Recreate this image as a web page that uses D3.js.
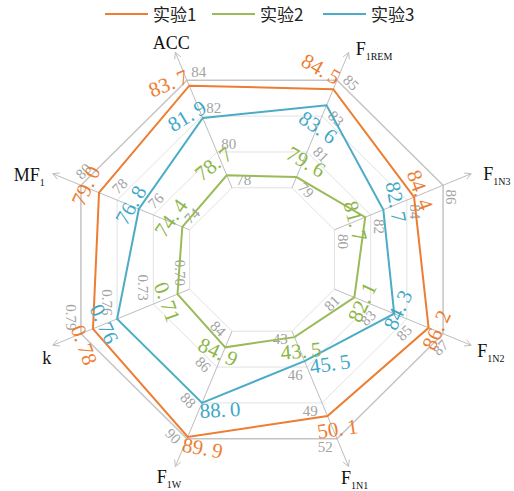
<!DOCTYPE html>
<html><head><meta charset="utf-8">
<script src="https://cdn.jsdelivr.net/npm/d3@7"></script>
<style>body{margin:0;background:#fff} svg{display:block}</style>
</head><body><svg id="chart" width="514" height="491"></svg>
<script>
// Indicators (one axis each) and their scales
const indicators = ["ACC", "F1REM", "F1N3", "F1N2", "F1N1", "F1W", "k", "MF1"];
const nameMain = ["ACC", "F", "F", "F", "F", "F", "k", "MF"];
const nameSub = ["", "1REM", "1N3", "1N2", "1N1", "1W", "", "1"];
const axisMin = [74, 75, 76, 77, 37, 80, 0.64, 70];
const axisMax = [84, 85, 86, 87, 52, 90, 0.79, 80];
const tickValues = [
  [78, 80, 82, 84], [79, 81, 83, 85], [80, 82, 84, 86], [81, 83, 85, 87],
  [43, 46, 49, 52], [84, 86, 88, 90], [0.70, 0.73, 0.76, 0.79], [74, 76, 78, 80]
];

// Series
const seriesNames = ["实验1", "实验2", "实验3"];
const exp1 = [83.7, 84.5, 84.4, 86.2, 50.1, 89.9, 0.78, 79.0];
const exp2 = [78.7, 79.6, 81.7, 82.1, 43.5, 84.9, 0.71, 74.4];
const exp3 = [81.9, 83.6, 82.7, 84.3, 45.5, 88.0, 0.76, 76.8];

// ---- layout & style ----
const colors = ["#ED7D31", "#9BBB59", "#4BACC6"];
const textColors = ["#ED7D31", "#8DB548", "#3FA8C6"];
const cx = 262, cy = 259.5, Rx = 196, Ry = 194, axisExt = 1.155;
// value label placement relative to its point: [dx, dy, rotate]
const valueLabelPos = [
  [[-20.7, -2.1, -22], [-12.3, -20.2, 30], [5.9, -7.1, 70], [7.9, 2.2, -65], [10, 13, -8], [14.8, 11.1, 10], [-9, 16.2, 70], [-13, -6.7, -65]],
  [[-13.2, -11.3, -38], [9.5, -15.1, 30], [-10, 4, 75], [8, 5, -65], [6.5, 13.8, -5], [-7.2, 4.7, 25], [-10.5, 7.9, 70], [-11.3, -8.8, -55]],
  [[-15.7, -1.9, -31], [-8.5, 22.1, 35], [12.7, -7.8, 80], [3.8, -3.7, -65], [25.5, 2.9, -8], [18, 7.1, -3], [-13.1, 5.1, 65], [-7.9, -4, -60]]
];
// axis name placement relative to the arrow tip: [dx, dy, anchor]
const namePos = [[-4, -3, "middle"], [7, 2.5, "start"], [12, 6, "start"], [6, 12, "start"],
                 [6, 17, "middle"], [-6.5, 16, "middle"], [-6, 19, "middle"], [-8, 7, "end"]];

const svg = d3.select("#chart");
const rad = Math.PI / 180;
const angles = indicators.map((d, i) => -112.5 + 45 * i);
const dir = angles.map(a => [Math.cos(a * rad), Math.sin(a * rad)]);
const scales = indicators.map((d, i) => d3.scaleLinear().domain([axisMin[i], axisMax[i]]).range([0, 1]));
const pt = (i, f) => [cx + dir[i][0] * f * Rx, cy + dir[i][1] * f * Ry];
const fmtTick = (i, v) => indicators[i] === "k" ? v.toFixed(2) : d3.format("d")(v);
const fmtVal = (i, v) => indicators[i] === "k" ? v.toFixed(2) : v.toFixed(1);

// split rings
const gRings = svg.append("g");
d3.range(4).forEach(level => {
  const pts = indicators.map((d, i) => pt(i, scales[i](tickValues[i][level])));
  gRings.append("path")
    .attr("d", d3.line().curve(d3.curveLinearClosed)(pts))
    .attr("fill", "none")
    .attr("stroke", level === 3 ? "#c4c4c4" : "#e2e2e2")
    .attr("stroke-width", level === 3 ? 1.5 : 1);
});

// axis lines with open arrow heads
const gAxes = svg.append("g").attr("stroke", "#bdbdbd").attr("stroke-width", 1).attr("fill", "none");
indicators.forEach((d, i) => {
  const a = pt(i, scales[i](tickValues[i][0]));
  const b = pt(i, axisExt);
  gAxes.append("line").attr("x1", a[0]).attr("y1", a[1]).attr("x2", b[0]).attr("y2", b[1]);
  const ang = Math.atan2(b[1] - a[1], b[0] - a[0]);
  const hl = 7;
  const p1 = [b[0] - hl * Math.cos(ang - 0.5), b[1] - hl * Math.sin(ang - 0.5)];
  const p2 = [b[0] - hl * Math.cos(ang + 0.5), b[1] - hl * Math.sin(ang + 0.5)];
  gAxes.append("path").attr("d", d3.line()([p1, b, p2]));
});

// tick labels along each axis, turned with the axis
const gTicks = svg.append("g");
indicators.forEach((d, i) => {
  let rot = angles[i] + 112.5;
  while (rot > 90) rot -= 180;
  while (rot <= -90) rot += 180;
  const u = dir[i], p = [-u[1], u[0]];
  const t = [Math.cos(rot * rad), Math.sin(rot * rad)];
  const c = Math.abs(t[0] * p[0] + t[1] * p[1]);
  const s = Math.sqrt(Math.max(0, 1 - c * c));
  tickValues[i].forEach(v => {
    const v0 = pt(i, scales[i](v));
    const txt = gTicks.append("text")
      .attr("font-family", "'Liberation Serif', 'Times New Roman', serif")
      .attr("font-size", 15).attr("fill", "#a3a3a3")
      .attr("text-anchor", "middle").attr("dominant-baseline", "central")
      .text(fmtTick(i, v));
    const w = txt.node().getComputedTextLength();
    const off = 5 + (w / 2) * c + 5 * s;
    const x = v0[0] + u[0] * 3 + p[0] * off;
    const y = v0[1] + u[1] * 3 + p[1] * off;
    txt.attr("transform", `translate(${x},${y}) rotate(${rot})`);
  });
});

// series polygons
const allSeries = [exp1, exp2, exp3];
const gSeries = svg.append("g");
allSeries.forEach((vals, s) => {
  const pts = vals.map((v, i) => pt(i, scales[i](v)));
  gSeries.append("path")
    .attr("d", d3.line().curve(d3.curveLinearClosed)(pts))
    .attr("fill", "none").attr("stroke", colors[s]).attr("stroke-width", 2)
    .attr("stroke-linejoin", "miter");
});

// value labels
const gVals = svg.append("g");
allSeries.forEach((vals, s) => {
  vals.forEach((v, i) => {
    const p0 = pt(i, scales[i](v));
    const [dx, dy, rot] = valueLabelPos[s][i];
    const str = fmtVal(i, v);
    const dot = str.indexOf(".");
    const t = gVals.append("text")
      .attr("transform", `translate(${p0[0] + dx},${p0[1] + dy}) rotate(${rot})`)
      .attr("font-family", "'Liberation Serif', 'Times New Roman', serif")
      .attr("font-size", 21).attr("fill", textColors[s])
      .attr("text-anchor", "middle").attr("dominant-baseline", "central");
    t.append("tspan").text(str.slice(0, dot + 1));
    t.append("tspan").attr("dx", 4).text(str.slice(dot + 1));
  });
});

// axis names
const gNames = svg.append("g");
indicators.forEach((d, i) => {
  const tip = pt(i, axisExt);
  const [dx, dy, anchor] = namePos[i];
  const t = gNames.append("text")
    .attr("x", tip[0] + dx).attr("y", tip[1] + dy)
    .attr("text-anchor", anchor)
    .attr("font-family", "'Liberation Serif', 'Times New Roman', serif")
    .attr("font-size", 18).attr("fill", "#111");
  t.append("tspan").text(nameMain[i]);
  if (nameSub[i]) t.append("tspan").attr("font-size", 10).attr("dy", 5).text(nameSub[i]);
});

// legend
const legendX = [105, 212, 323];
const gLeg = svg.append("g");
seriesNames.forEach((n, s) => {
  gLeg.append("line").attr("x1", legendX[s]).attr("x2", legendX[s] + 43)
    .attr("y1", 14).attr("y2", 14).attr("stroke", colors[s]).attr("stroke-width", 2);
  gLeg.append("text").attr("x", legendX[s] + 48).attr("y", 21)
    .attr("font-family", "'Noto Sans CJK SC', sans-serif").attr("font-size", 17)
    .attr("fill", "#222").text(n);
});
</script>
</body></html>
